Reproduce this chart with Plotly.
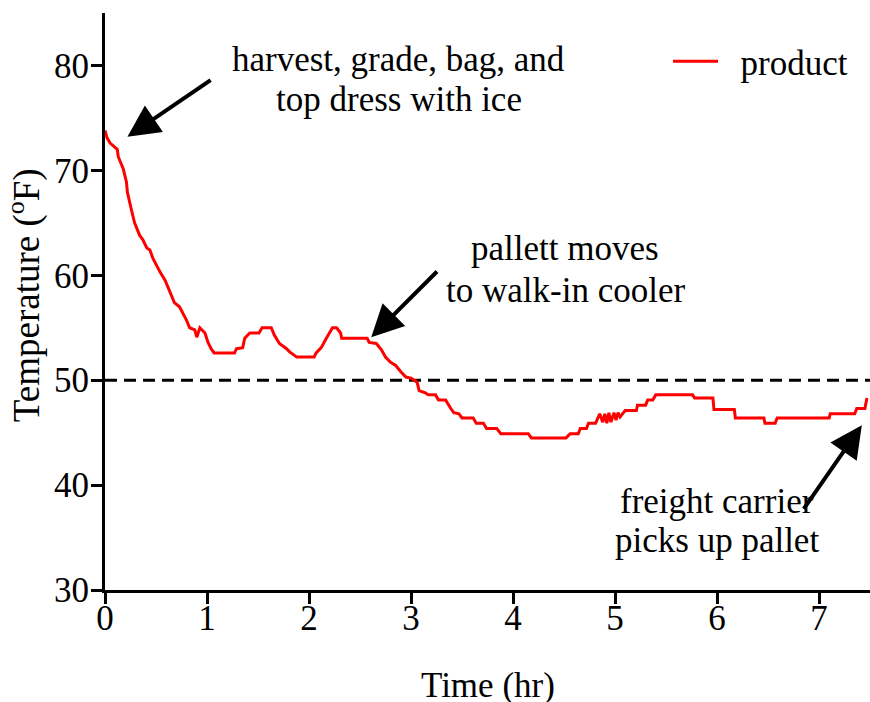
import plotly.graph_objects as go

time_hr = [0.00, 0.02, 0.05, 0.08, 0.12, 0.13, 0.18, 0.21, 0.22, 0.26, 0.29, 0.34, 0.37, 0.41, 0.44,
           0.47, 0.51, 0.54, 0.59, 0.63, 0.68, 0.73, 0.76, 0.80, 0.83, 0.88, 0.90, 0.93, 0.98, 1.01,
           1.04, 1.07, 1.27, 1.29, 1.35, 1.37, 1.42, 1.51, 1.54, 1.63, 1.66, 1.71, 1.78, 1.81, 1.88,
           2.05, 2.07, 2.12, 2.17, 2.23, 2.27, 2.31, 2.32, 2.57, 2.59, 2.66, 2.71, 2.75, 2.80, 2.85,
           2.90, 2.95, 3.00, 3.06, 3.08, 3.14, 3.17, 3.24, 3.27, 3.34, 3.39, 3.42, 3.47, 3.50, 3.61,
           3.64, 3.71, 3.74, 3.84, 3.88, 4.15, 4.18, 4.52, 4.56, 4.64, 4.66, 4.72, 4.74, 4.81, 4.85,
           4.88, 4.90, 4.92, 4.94, 4.96, 4.99, 5.01, 5.03, 5.05, 5.10, 5.21, 5.22, 5.30, 5.32, 5.37,
           5.40, 5.76, 5.78, 5.96, 5.97, 6.17, 6.18, 6.46, 6.47, 6.57, 6.59, 7.10, 7.11, 7.35, 7.37,
           7.45, 7.47]
temp_f = [73.8, 73.1, 72.6, 72.3, 72.0, 71.3, 70.1, 68.9, 67.9, 66.2, 65.0, 63.8, 63.4, 62.6, 62.4,
          61.6, 60.8, 60.3, 59.5, 58.6, 57.4, 57.0, 56.5, 55.7, 55.0, 54.8, 54.1, 55.0, 54.5, 53.6,
          53.0, 52.6, 52.6, 53.0, 53.1, 54.0, 54.5, 54.5, 55.0, 55.0, 54.3, 53.5, 53.0, 52.7, 52.2,
          52.2, 52.6, 53.1, 54.0, 55.0, 55.0, 54.5, 54.0, 54.0, 53.6, 53.5, 52.9, 52.2, 51.7, 51.4,
          50.8, 50.3, 50.2, 49.8, 49.0, 48.8, 48.6, 48.6, 48.1, 48.1, 47.3, 46.9, 46.8, 46.4, 46.4,
          45.9, 45.9, 45.4, 45.4, 44.9, 44.9, 44.5, 44.5, 44.9, 44.9, 45.4, 45.4, 45.9, 45.9, 46.8,
          46.0, 46.8, 45.9, 46.9, 46.0, 46.9, 46.2, 46.9, 46.5, 47.1, 47.1, 47.6, 47.6, 48.1, 48.1,
          48.6, 48.6, 48.3, 48.3, 47.2, 47.2, 46.4, 46.4, 45.9, 45.9, 46.4, 46.4, 46.8, 46.8, 47.3,
          47.3, 48.3]

threshold_x = [0, 7.5]
threshold_y = [50, 50]

x_ticks = [0, 1, 2, 3, 4, 5, 6, 7]
y_ticks = [30, 40, 50, 60, 70, 80]

x_title = "Time (hr)"
y_title = "Temperature (<sup>o</sup>F)"

note_lines = ["harvest, grade, bag, and", "top dress with ice",
              "pallett moves", "to walk-in cooler",
              "freight carrier", "picks up pallet"]
note_x = [2.88, 2.88, 4.51, 4.51, 6.0, 6.0]
note_y = [80.57, 76.75, 62.6, 58.59, 38.41, 34.68]

# arrows: (tip_x, tip_y, tail_x, tail_y)
arrows = [(0.22, 73.2, 1.05, 78.7),
          (2.61, 54.1, 3.27, 60.5),
          (7.42, 45.7, 6.84, 37.6)]

FONT = "Liberation Serif, Times New Roman, serif"
FS = 35

fig = go.Figure()
fig.add_trace(go.Scatter(x=threshold_x, y=threshold_y, mode="lines",
                         line=dict(color="black", width=3, dash="12px,7px"),
                         showlegend=False, hoverinfo="skip"))
fig.add_trace(go.Scatter(x=time_hr, y=temp_f, mode="lines", name="\u00a0\u00a0product",
                         line=dict(color="#ff0000", width=3)))

for t, x, y in zip(note_lines, note_x, note_y):
    fig.add_annotation(x=x, y=y, xref="x", yref="y", text=t, showarrow=False,
                       xanchor="center", yanchor="middle",
                       font=dict(family=FONT, size=FS, color="black"))

for tx, ty, sx, sy in arrows:
    fig.add_annotation(x=tx, y=ty, ax=sx, ay=sy, xref="x", yref="y", axref="x", ayref="y",
                       text="", showarrow=True, arrowhead=2, arrowsize=1.6, arrowwidth=4,
                       arrowcolor="black")

# axis titles
fig.add_annotation(x=0.5, y=0, xref="paper", yref="paper", text=x_title, showarrow=False,
                   xanchor="center", yanchor="middle", yshift=-95,
                   font=dict(family=FONT, size=FS, color="black"))
fig.add_annotation(x=0, y=0.511, xref="paper", yref="paper", text=y_title, showarrow=False,
                   xanchor="center", yanchor="middle", xshift=-80, textangle=-90,
                   font=dict(family=FONT, size=37, color="black"))

fig.update_layout(
    width=870, height=702,
    margin=dict(l=105, r=0, t=13, b=112),
    paper_bgcolor="white", plot_bgcolor="white",
    font=dict(family=FONT, size=FS, color="black"),
    showlegend=True,
    legend=dict(x=0.736, y=0.967, xanchor="left", yanchor="top", bgcolor="rgba(0,0,0,0)",
                itemwidth=45, font=dict(family=FONT, size=FS, color="black")),
    xaxis=dict(range=[0, 7.5], tickvals=x_ticks, ticks="outside", ticklen=11, tickwidth=3,
               tickcolor="black", showline=True, linewidth=3, linecolor="black",
               showgrid=False, zeroline=False, automargin=False, ticklabelstandoff=-16,
               tickfont=dict(family=FONT, size=FS)),
    yaxis=dict(range=[30, 85], tickvals=y_ticks, ticks="outside", ticklen=11, tickwidth=3,
               tickcolor="black", showline=True, linewidth=3, linecolor="black",
               showgrid=False, zeroline=False, automargin=False, ticklabelstandoff=-5,
               tickfont=dict(family=FONT, size=FS)),
)

fig.write_html("out.html", config={"displayModeBar": False},
               post_script="document.body.style.margin='0';document.body.style.overflow='hidden';")
